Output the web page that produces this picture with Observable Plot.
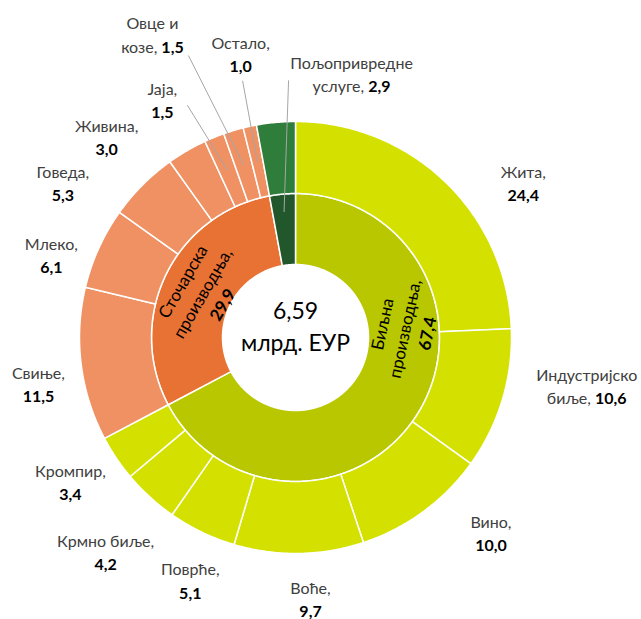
<!DOCTYPE html>
<html><head><meta charset="utf-8">
<script src="https://cdn.jsdelivr.net/npm/d3@7"></script>
<script src="https://cdn.jsdelivr.net/npm/@observablehq/plot@0.6"></script>
<style>html,body{margin:0;padding:0;background:#fff}svg{display:block}</style>
</head><body><div id="chart"></div>
<script>
// ---- data ----
const groups = ["Биљна производња", "Сточарска производња", "Пољопривредне услуге"];
const groupValues = [67.4, 29.9, 2.9];
const categories = ["Жита", "Индустријско биље", "Вино", "Воће", "Поврће", "Крмно биље", "Кромпир",
  "Свиње", "Млеко", "Говеда", "Живина", "Јаја", "Овце и козе", "Остало", "Пољопривредне услуге"];
const categoryValues = [24.4, 10.6, 10.0, 9.7, 5.1, 4.2, 3.4, 11.5, 6.1, 5.3, 3.0, 1.5, 1.5, 1.0, 2.9];
const categoryGroup = [0, 0, 0, 0, 0, 0, 0, 1, 1, 1, 1, 1, 1, 1, 2];
const totalText = ["6,59", "млрд. ЕУР"];

// ---- style / layout ----
const W = 641, H = 619, CX = 295, CY = 337;
const R0 = 73, R1 = 144, R2 = 216;
const innerColors = ["#b8c700", "#e87134", "#21572a"];
const outerColors = ["#d4e100", "#ef9163", "#2e7d3a"];
const labelDAngle = [11.8, -7.5, -8.8, -2.4, -2.2, -0.8, 1.4, -2.8, -5.6, -11.1, -13, -7.1, -8.5, 1.3, 17.2];
const labelRadius = [276, 295, 276, 261, 264, 286, 267, 261, 258, 280, 276, 273, 336, 290, 270];
const leaders = {"Јаја": [25, 6, 180], "Овце и козе": [36, 22, 180], "Остало": [2, 28, 180], "Пољопривредне услуге": [-63, 7, 126]};
const innerLabelLayout = [{dx: 108, dy: -9, rotate: -78}, {dx: -94, dy: -45, rotate: -60}, null];
const FONT = "Lato, 'Open Sans', sans-serif";

const fmt = v => v.toFixed(1).replace(".", ",");
const total = d3.sum(categoryValues);
const toDeg = v => v / total * 360;
const rad = a => a * Math.PI / 180;
const polar = (a, r) => ({x: r * Math.sin(rad(a)), y: -r * Math.cos(rad(a))});

function arcPoly(a0, a1, r0, r1, id) {
  const n = Math.max(2, Math.ceil((a1 - a0) / 0.5));
  const pts = [];
  for (let i = 0; i <= n; i++) pts.push({...polar(a0 + (a1 - a0) * i / n, r1), id});
  for (let i = n; i >= 0; i--) pts.push({...polar(a0 + (a1 - a0) * i / n, r0), id});
  return pts;
}

const marks = [];
// inner ring
let acc = 0;
groupValues.forEach((v, i) => {
  const a0 = toDeg(acc), a1 = toDeg(acc + v); acc += v;
  marks.push(Plot.line(arcPoly(a0, a1, R0, R1, groups[i]), {x: "x", y: "y", curve: "linear-closed",
    fill: innerColors[i], stroke: "white", strokeWidth: 1.5}));
});
// outer ring
acc = 0;
const outerLabels = [], leaderLines = [];
categoryValues.forEach((v, i) => {
  const a0 = toDeg(acc), a1 = toDeg(acc + v); acc += v;
  const mid = (a0 + a1) / 2;
  marks.push(Plot.line(arcPoly(a0, a1, R1, R2, categories[i]), {x: "x", y: "y", curve: "linear-closed",
    fill: outerColors[categoryGroup[i]], stroke: "white", strokeWidth: 1.5}));
  const name = categories[i];
  let text;
  if (name.includes(" ") && name.length > 10) {
    const k = name.lastIndexOf(" ");
    text = name.slice(0, k) + "\n" + name.slice(k + 1) + ", " + fmt(v);
  } else text = name + ",\n" + fmt(v);
  const p = polar(mid + labelDAngle[i], labelRadius[i]);
  outerLabels.push({x: p.x, y: p.y, text});
  if (leaders[name]) {
    const [ox, oy, rr] = leaders[name];
    const q = polar(mid, rr);
    leaderLines.push({x1: p.x + ox, y1: p.y + oy, x2: q.x, y2: q.y});
  }
});

marks.push(Plot.link(leaderLines, {x1: "x1", y1: "y1", x2: "x2", y2: "y2", stroke: "#a6a6a6", strokeWidth: 1}));
marks.push(Plot.text(outerLabels, {x: "x", y: "y", text: "text", fontSize: 16, fontFamily: FONT,
  lineHeight: 1.45, fill: "#404040", ariaDescription: "value-labels"}));

groups.forEach((g, i) => {
  const L = innerLabelLayout[i];
  if (!L) return;
  const sp = g.indexOf(" ");
  const t = g.slice(0, sp) + "\n" + g.slice(sp + 1) + ",\n" + fmt(groupValues[i]);
  marks.push(Plot.text([{x: L.dx, y: L.dy, t}], {x: "x", y: "y", text: "t", rotate: L.rotate,
    fontSize: 17, fontFamily: FONT, lineHeight: 1.35, fill: "#000", ariaDescription: "value-labels"}));
});

marks.push(Plot.text([{x: 0, y: -13, t: totalText.join("\n")}], {x: "x", y: "y", text: "t",
  fontSize: 23, fontFamily: FONT, lineHeight: 1.4, fill: "#000"}));

const chart = Plot.plot({
  width: W, height: H, margin: 0,
  x: {domain: [-CX, W - CX], range: [0, W], axis: null},
  y: {domain: [-CY, H - CY], range: [0, H], axis: null},
  style: {fontFamily: FONT, background: "white", overflow: "visible"},
  marks
});

const svgns = "http://www.w3.org/2000/svg";
chart.querySelectorAll('g[aria-description="value-labels"] text').forEach(t => {
  const spans = t.querySelectorAll("tspan");
  (spans.length ? Array.from(spans) : [t]).forEach(s => {
    const m = s.textContent.match(/^(.*?)(\d+,\d)$/);
    if (m) {
      s.textContent = m[1];
      const b = document.createElementNS(svgns, "tspan");
      b.setAttribute("font-weight", "bold");
      b.setAttribute("fill", "#000");
      b.textContent = m[2];
      s.appendChild(b);
    }
  });
});
document.getElementById("chart").appendChild(chart);
</script>
</body></html>
